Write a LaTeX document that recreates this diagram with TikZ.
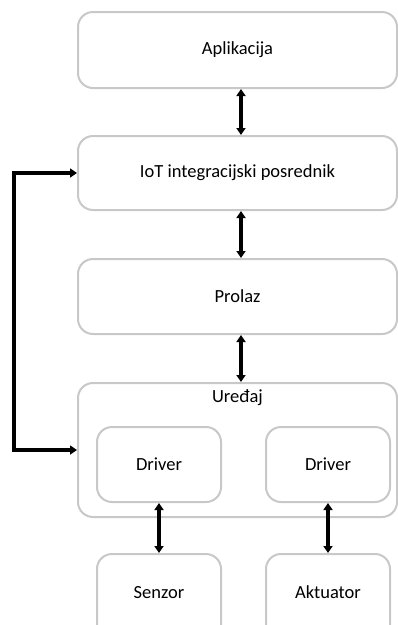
\documentclass[tikz,border=0pt]{standalone}
\usepackage{fontspec}
\setmainfont{Carlito}
\usetikzlibrary{arrows.meta}

\definecolor{boxgray}{RGB}{200,200,200}

\tikzset{
  box/.style={draw=boxgray,line width=2pt,rounded corners=15pt,font=\fontsize{18.5}{22}\selectfont},
  link/.style={black,line width=3.2pt,{Triangle[width=9pt,length=7pt]}-{Triangle[width=9pt,length=7pt]}},
}

\begin{document}
\begin{tikzpicture}[x=1pt,y=-1pt]
  \useasboundingbox (0,0) rectangle (398,625);
  % main layers
  \node (apl) at (237.5,50)[box,minimum width=319pt,minimum height=76pt]{Aplikacija};
  \node (iot) at (237.5,173)[box,minimum width=319pt,minimum height=74pt]{IoT integracijski posrednik};
  \node (prolaz) at (237.5,296.5)[box,minimum width=319pt,minimum height=75pt]{Prolaz};
  \node (uredjaj) at (237.5,450)[box,minimum width=319pt,minimum height=134pt,
        label={[font=\fontsize{18.5}{22}\selectfont,anchor=north,yshift=-4pt]north:Uređaj}]{};
  % device parts
  \node (drvl) at (159,464.5)[box,minimum width=124pt,minimum height=75pt]{Driver};
  \node (drvr) at (328,464.5)[box,minimum width=124pt,minimum height=75pt]{Driver};
  \node (senzor) at (159,600)[box,minimum width=124pt,minimum height=92pt,text depth=16pt]{Senzor};
  \node (aktuator) at (328,600)[box,minimum width=124pt,minimum height=92pt,text depth=16pt]{Aktuator};
  \coordinate (bus) at (14,0);
  \draw [link] ([xshift=3.5pt]apl.south) -- ([xshift=3.5pt]iot.north);
  \draw [link] ([xshift=3.5pt]iot.south) -- ([xshift=3.5pt]prolaz.north);
  \draw [link] ([xshift=3.5pt]prolaz.south) -- ([xshift=3.5pt]uredjaj.north);
  \draw [link] (drvl.south) -- (senzor.north);
  \draw [link] (drvr.south) -- (aktuator.north);
  \draw [link,rounded corners=0pt] (iot.west) -- (iot.west -| bus) -- (uredjaj.west -| bus) -- (uredjaj.west);
\end{tikzpicture}
\end{document}
